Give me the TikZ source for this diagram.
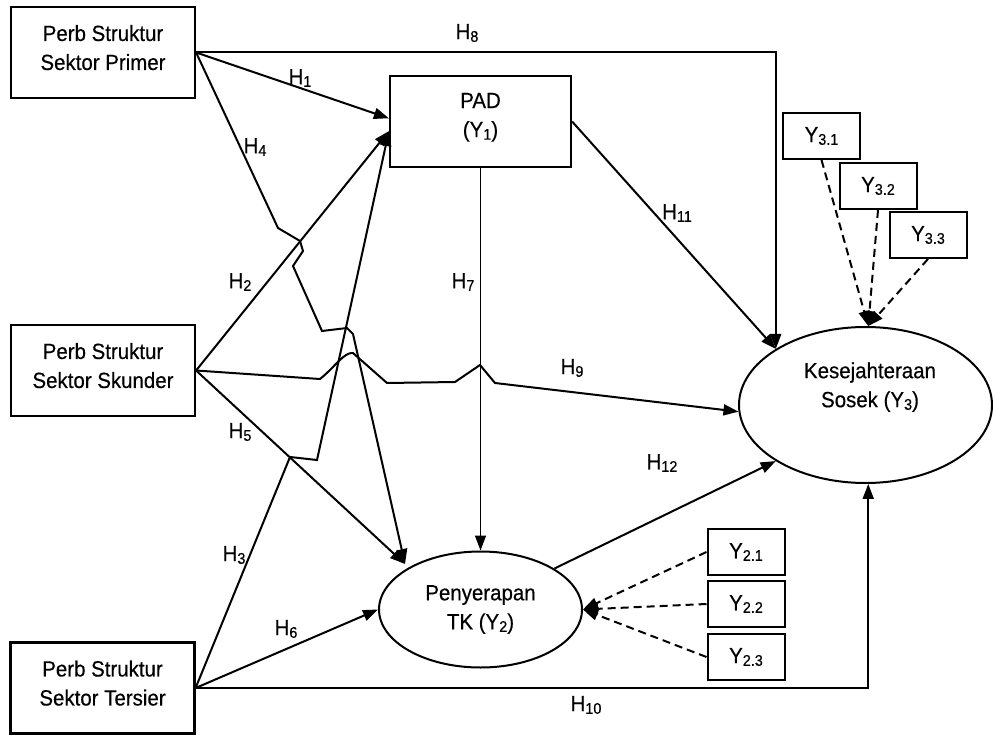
\documentclass[tikz,border=0pt]{standalone}
\usepackage{fontspec}
\setmainfont{Liberation Sans}[FakeStretch=0.93,FakeBold=0.4]
\usetikzlibrary{arrows.meta,shapes.geometric}
\newcommand{\sbx}[1]{\raisebox{-0.12em}{\fontsize{15.5}{15.5}\selectfont #1}}
\newcommand{\dnstrut}[1]{\rule[-#1]{0pt}{#1}}
\begin{document}
\begin{tikzpicture}[x=1pt,y=-1pt,
  every node/.style={font=\fontsize{22}{29}\selectfont},
  srcbox/.style={draw, line width=2.2pt, minimum width=184pt, minimum height=91pt, inner sep=0pt, align=center},
  indbox/.style={draw, line width=2pt, minimum width=77pt, minimum height=46pt, inner sep=0pt},
  lat/.style={draw, ellipse, line width=2pt, inner sep=0pt, align=center},
  conn/.style={line width=2pt, -{Triangle[length=15pt,width=11pt]}},
  dsh/.style={conn, dash pattern=on 8pt off 5pt},
  hlab/.style={inner sep=1pt}]
\useasboundingbox (0,0) rectangle (993,735);
% nodes
\node[srcbox] (prim) at (103,52.5) {Perb Struktur\\Sektor Primer\dnstrut{10pt}};
\node[srcbox] (skun) at (103,370.5) {Perb Struktur\\Sektor Skunder\dnstrut{10pt}};
\node[srcbox] (ters) at (102.5,688) {Perb Struktur\\Sektor Tersier\dnstrut{10pt}};
\node[srcbox, minimum width=181pt] (pad) at (480.5,121.5) {PAD\\(Y\sbx{1})\dnstrut{13pt}};
\node[lat, minimum width=253pt, minimum height=156pt] (kes) at (865.5,405) {};
\node[align=center] (kestxt) at (870,387) {Kesejahteraan\\Sosek (Y\sbx{3})};
\node[lat, minimum width=203pt, minimum height=116pt] (pen) at (480.5,609.5) {Penyerapan\\TK (Y\sbx{2})};
\node[indbox] (y31) at (821.5,136) {Y\sbx{3.1}};
\node[indbox] (y32) at (878,186) {Y\sbx{3.2}};
\node[indbox] (y33) at (928,235) {Y\sbx{3.3}};
\node[indbox] (y21) at (746,552) {Y\sbx{2.1}};
\node[indbox] (y22) at (746,604) {Y\sbx{2.2}};
\node[indbox] (y23) at (746,657) {Y\sbx{2.3}};
\coordinate (pe) at (405,564);
% connectors
\draw[conn] (prim.east) -| (kes.148);
\draw[conn] (prim.east) -- (pad.178);
\draw[conn] (prim.east) -- (278,228) -- (300,241) -- (303,251) -- (293,266) -- (322,331) -- (347,328) -- (353,334) -- (pe);
\draw[conn] (skun.east) -- (pad.186);
\draw[conn] (skun.east) -- (320,379) .. controls (335,367) and (344,352) .. (353,353) -- (387,383) -- (455,382) -- (480,365) -- (495,383) -- (kes.183);
\draw[conn] (skun.east) -- (pe);
\draw[conn] (ters.east) -- (290,457) -- (317,460) -- (pad.186);
\draw[conn] (ters.east) -- (pen.west);
\draw[conn] (ters.east) -| (kes.272);
\draw[conn, line width=1.4pt] (pad.south) -- (pen.north);
\draw[conn] (pad.east) -- (kes.148);
\draw[conn] (pen.29) -- (kes.212);
\draw[dsh] (y31.south) -- (kes.88);
\draw[dsh] (y32.south) -- (kes.88);
\draw[dsh] (y33.south) -- (kes.88);
\draw[dsh] (y21.west) -- (pen.east);
\draw[dsh] (y22.west) -- (pen.east);
\draw[dsh] (y23.west) -- (pen.east);
% labels
\node[hlab] (h1) at (300,78) {H\sbx{1}};
\node[hlab] (h2) at (240,282) {H\sbx{2}};
\node[hlab] (h3) at (234,555) {H\sbx{3}};
\node[hlab] (h4) at (255,147) {H\sbx{4}};
\node[hlab] (h5) at (240,432) {H\sbx{5}};
\node[hlab] (h6) at (286,629) {H\sbx{6}};
\node[hlab] (h7) at (463,282) {H\sbx{7}};
\node[hlab] (h8) at (467,33) {H\sbx{8}};
\node[hlab] (h9) at (572,368) {H\sbx{9}};
\node[hlab] (h10) at (586,705) {H\sbx{10}};
\node[hlab] (h11) at (677,213) {H\sbx{11}};
\node[hlab] (h12) at (662,463) {H\sbx{12}};
\end{tikzpicture}
\end{document}
